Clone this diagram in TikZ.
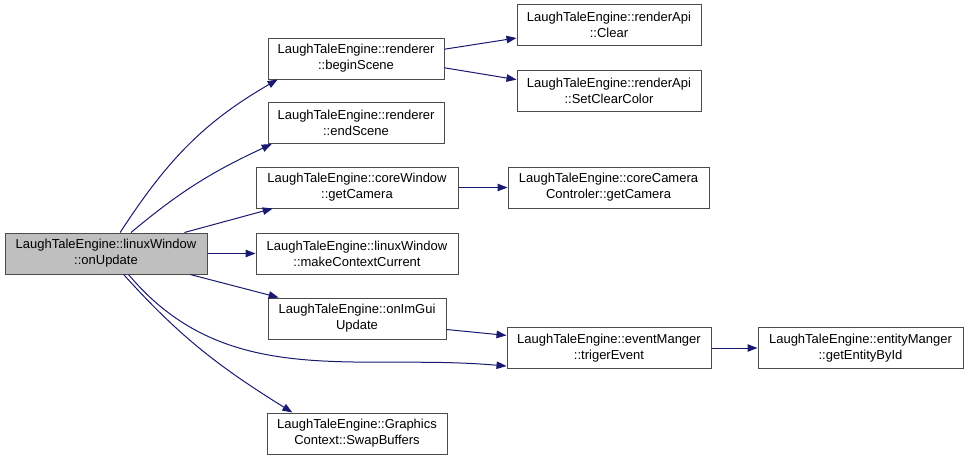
\documentclass[tikz,border=0pt]{standalone}
\usepackage{fontspec}
\setmainfont{Liberation Sans}
\usetikzlibrary{arrows.meta}

\definecolor{edgeblue}{HTML}{191970}
\definecolor{hilite}{HTML}{BFBFBF}

\begin{document}
\begin{tikzpicture}[
  x=1pt, y=1pt,
  fn/.style={draw=black!70, line width=1pt, rectangle, align=center,
    minimum height=41pt, inner sep=0pt, font=\fontsize{13}{16}\selectfont},
  arr/.style={-{Triangle[length=10pt,width=7.5pt,fill=edgeblue]}, draw=edgeblue, line width=1pt}
]
  \useasboundingbox (0,0) rectangle (968,-463);

  \node[fn, fill=hilite, minimum width=202pt] (main) at (106,-253.5) {LaughTaleEngine::linuxWindow\\::onUpdate};

  \node[fn, minimum width=176pt] (begin) at (356,-58.5) {LaughTaleEngine::renderer\\::beginScene};
  \node[fn, minimum width=176pt] (endsc) at (356,-123) {LaughTaleEngine::renderer\\::endScene};
  \node[fn, minimum width=202pt] (getcam) at (357,-187.5) {LaughTaleEngine::coreWindow\\::getCamera};
  \node[fn, minimum width=202pt] (mkctx) at (357,-253.5) {LaughTaleEngine::linuxWindow\\::makeContextCurrent};
  \node[fn, minimum width=178pt] (imgui) at (357,-318.5) {LaughTaleEngine::onImGui\\Update};
  \node[fn, minimum width=180pt] (swap) at (357,-433.5) {LaughTaleEngine::Graphics\\Context::SwapBuffers};

  \node[fn, minimum width=184pt] (clear) at (609,-25) {LaughTaleEngine::renderApi\\::Clear};
  \node[fn, minimum width=184pt] (setclr) at (609,-91) {LaughTaleEngine::renderApi\\::SetClearColor};
  \node[fn, minimum width=201pt] (camctl) at (608.5,-187.5) {LaughTaleEngine::coreCamera\\Controler::getCamera};
  \node[fn, minimum width=204pt] (trig) at (609,-348) {LaughTaleEngine::eventManger\\::trigerEvent};

  \node[fn, minimum width=205pt] (entity) at (860.5,-348) {LaughTaleEngine::entityManger\\::getEntityById};

  % calls from onUpdate
  \draw[arr] (main.56) to[out=57, in=210] (begin.195);
  \draw[arr] (main.40) to[out=40, in=205] (endsc.194);
  \draw[arr] (main.15) -- (getcam.194);
  \draw[arr] (main) -- (mkctx);
  \draw[arr] (main.-14.5) -- (imgui.165);
  \draw[arr] (main.-43) to[out=-50, in=175] (trig.190);
  \draw[arr] (main.-50) to[out=-48, in=148] (swap.162);

  % second level
  \draw[arr] (begin.6.8) -- (clear.188);
  \draw[arr] (begin.-6.8) -- (setclr.173.2);
  \draw[arr] (getcam) -- (camctl);
  \draw[arr] (imgui.-7.4) -- (trig.173.8);
  \draw[arr] (trig) -- (entity);
\end{tikzpicture}
\end{document}
